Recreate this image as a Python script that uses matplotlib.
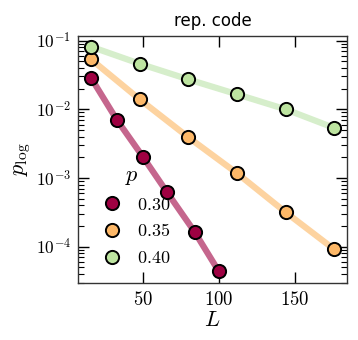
import matplotlib

matplotlib.use("Agg")
import matplotlib.pyplot as plt
import numpy as np
from matplotlib.ticker import FixedLocator, FuncFormatter, LogLocator, NullFormatter

matplotlib.rcParams.update(
    {
        "mathtext.fontset": "cm",
        "axes.linewidth": 1.0,
        "axes.edgecolor": "#333333",
        "xtick.direction": "in",
        "ytick.direction": "in",
        "xtick.top": True,
        "ytick.right": True,
    }
)

# data
p_labels = ["0.30", "0.35", "0.40"]
L_030 = [16, 33, 50, 66, 84, 100]
plog_030 = [0.0285, 0.00697, 0.00204, 0.000617, 0.000165, 4.36e-5]
L_035 = [16, 48, 80, 112, 144, 176]
plog_035 = [0.0532, 0.0139, 0.0039, 0.00117, 0.000316, 9.1e-5]
L_040 = [16, 48, 80, 112, 144, 176]
plog_040 = [0.0813, 0.0459, 0.0272, 0.0165, 0.00997, 0.00533]

marker_colors = ["#9e0142", "#fdb868", "#bde4a0"]
line_colors = ["#c5668d", "#fdd3a0", "#d6eecb"]

fig = plt.figure(figsize=(3.58, 3.40), dpi=100)
ax = fig.add_axes([0.218, 0.1685, 0.751, 0.7255])

series = [(L_030, plog_030), (L_035, plog_035), (L_040, plog_040)]
for (L, pl), lab, mc, lc in zip(series, p_labels, marker_colors, line_colors):
    ax.plot(L, pl, color=lc, lw=4.5, solid_capstyle="butt", zorder=1)
    ax.plot(L, pl, ls="none", marker="o", ms=9.5, mfc=mc, mec="black", mew=1.4,
            label=f"${lab}$", zorder=2)

ax.set_yscale("log")
ax.set_xlim(7.4, 184.2)
ax.set_ylim(2.99e-5, 0.1163)

ax.xaxis.set_major_locator(FixedLocator([50, 100, 150]))
ax.xaxis.set_major_formatter(FuncFormatter(lambda v, pos: f"${v:.0f}$"))
ax.yaxis.set_major_locator(LogLocator(base=10, numticks=10))
ax.yaxis.set_major_formatter(FuncFormatter(lambda v, pos: f"$10^{{{round(np.log10(v))}}}$"))
ax.yaxis.set_minor_locator(LogLocator(base=10, subs=range(2, 10), numticks=10))
ax.yaxis.set_minor_formatter(NullFormatter())
ax.tick_params(which="major", length=8, width=1.0, labelsize=12.5, pad=5)
ax.tick_params(axis="x", which="major", labelsize=13.5)
ax.tick_params(which="minor", length=4, width=0.8)

ax.set_xlabel("$L$", fontsize=16, labelpad=1)
ax.set_ylabel(r"$p_{\rm log}$", fontsize=16, labelpad=2)
ax.set_title("rep. code", fontsize=12, pad=7)

ax.legend(title="$p$", loc="lower left", bbox_to_anchor=(0.012, 0.012),
          frameon=False, fontsize=13, title_fontsize=16,
          handletextpad=0.4, borderaxespad=0.3, labelspacing=0.48)

fig.savefig("out.png", dpi=100)
